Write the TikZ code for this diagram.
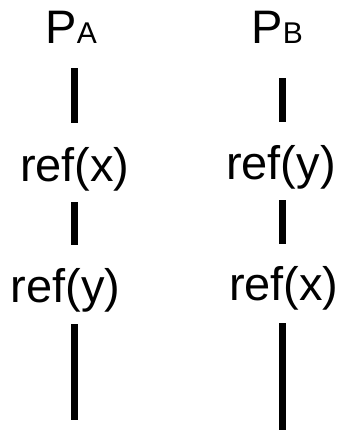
\documentclass[tikz,border=0pt]{standalone}
\usepackage{fontspec}
\setmainfont{Liberation Sans}
\begin{document}
\begin{tikzpicture}[x=1pt,y=-1pt,
  lbl/.style={anchor=base west,inner sep=0pt,outer sep=0pt,font=\fontsize{47pt}{47pt}\selectfont},
  lifeline/.style={line width=7pt,line cap=butt,black}]
\useasboundingbox (0,0) rectangle (341,432);
\newcommand{\smallsub}[1]{{\fontsize{30pt}{30pt}\selectfont #1}}
% headers
\node[lbl] (pa) at (45.5,43) {P\smallsub{A}};
\node[lbl] (pb) at (251.5,43) {P\smallsub{B}};
% events
\node[lbl] (ax) at (20,181) {ref(x)};
\node[lbl] (by) at (226,179) {ref(y)};
\node[lbl] (ay) at (11,302) {ref(y)};
\node[lbl] (bx) at (229,300) {ref(x)};
% line ends
\coordinate (a1t) at (74.5,68);  \coordinate (a1b) at (74.5,123);
\coordinate (b1t) at (282.5,78); \coordinate (b1b) at (282.5,122);
\coordinate (a2t) at (74,202);   \coordinate (a2b) at (74,245);
\coordinate (b2t) at (282.5,200);\coordinate (b2b) at (282.5,244);
\coordinate (a3t) at (74,324);   \coordinate (a3b) at (74,420);
\coordinate (b3t) at (282.5,323);\coordinate (b3b) at (282.5,430);
\draw[lifeline] (a1t) -- (a1b);
\draw[lifeline] (b1t) -- (b1b);
\draw[lifeline] (a2t) -- (a2b);
\draw[lifeline] (b2t) -- (b2b);
\draw[lifeline] (a3t) -- (a3b);
\draw[lifeline] (b3t) -- (b3b);
\end{tikzpicture}
\end{document}
